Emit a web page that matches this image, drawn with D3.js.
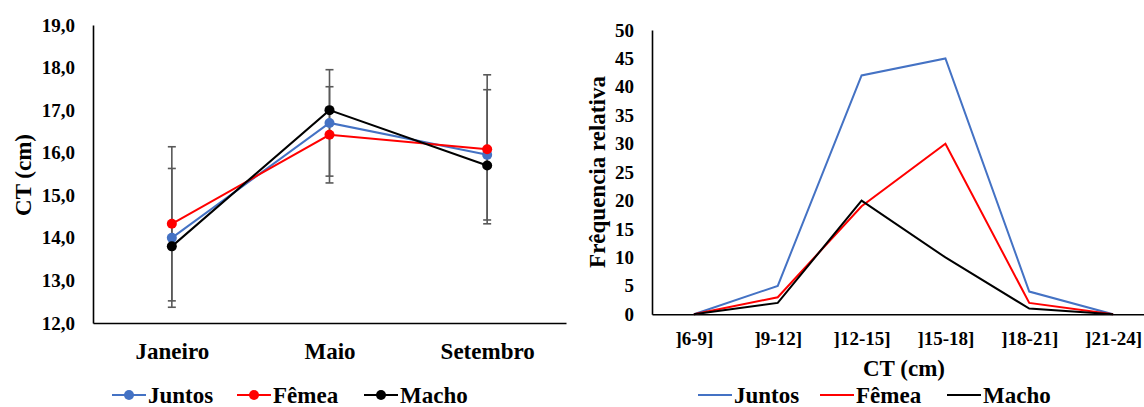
<!DOCTYPE html>
<html><head><meta charset="utf-8">
<script src="https://cdn.jsdelivr.net/npm/d3@7"></script>
<style>body{margin:0;background:#fff}svg{display:block}</style>
</head><body><svg id="c" width="1144" height="407" font-family="'Liberation Serif', 'Times New Roman', 'DejaVu Serif', serif" font-weight="bold"></svg>
<script>
// Left chart data
const months = ["Janeiro", "Maio", "Setembro"];
const ctJuntos = [14.0, 16.7, 15.95];
const ctFemea = [14.33, 16.42, 16.08];
const ctMacho = [13.8, 17.0, 15.7];
const errJuntos = [1.63, 1.25, 1.53];
const errFemea = [1.81, 1.13, 1.75];
const leftTicks = [12, 13, 14, 15, 16, 17, 18, 19];

// Right chart data
const classes = ["]6-9]", "]9-12]", "]12-15]", "]15-18]", "]18-21]", "]21-24]"];
const freqJuntos = [0, 5, 42, 45, 4, 0];
const freqFemea = [0, 3, 19, 30, 2, 0];
const freqMacho = [0, 2, 20, 10, 1, 0];
const rightTicks = [0, 5, 10, 15, 20, 25, 30, 35, 40, 45, 50];

const seriesNames = ["Juntos", "Fêmea", "Macho"];
const colors = ["#4472C4", "#FF0000", "#000000"];

const FONT = "'Liberation Serif', 'Times New Roman', 'DejaVu Serif', serif";
const svg = d3.select("#c");

function styleAxis(g, size) {
  g.attr("font-family", FONT).attr("font-weight", "bold");
  g.select(".domain").attr("stroke", "#000").attr("stroke-width", 1.6);
  g.selectAll("text").attr("font-size", size).attr("fill", "#000")
    .attr("font-family", FONT).attr("font-weight", "bold");
}

// ---------- Left chart ----------
const L = svg.append("g");
const lx = d3.scalePoint().domain(months).range([93, 566]).padding(0.5);
const ly = d3.scaleLinear().domain([12, 19]).range([323, 25]);

const lyAxis = d3.axisLeft(ly).tickValues(leftTicks).tickSize(0).tickPadding(18)
  .tickFormat(d => d3.format(".1f")(d).replace(".", ","));
L.append("g").attr("transform", "translate(93,0)").call(lyAxis).call(g => styleAxis(g, 19));
const lxAxis = d3.axisBottom(lx).tickSize(0).tickPadding(20);
L.append("g").attr("transform", "translate(0,323)").call(lxAxis).call(g => styleAxis(g, 23));

L.append("text").attr("transform", "translate(31,175) rotate(-90)")
  .attr("text-anchor", "middle").attr("font-size", 23).text("CT (cm)");

// error bars
const errSets = [[ctJuntos, errJuntos], [ctFemea, errFemea]];
errSets.forEach(([vals, errs]) => {
  months.forEach((m, i) => {
    const x = lx(m), y1 = ly(vals[i] + errs[i]), y2 = ly(vals[i] - errs[i]);
    const g = L.append("g").attr("stroke", "#595959").attr("stroke-width", 1.6);
    g.append("line").attr("x1", x).attr("x2", x).attr("y1", y1).attr("y2", y2);
    g.append("line").attr("x1", x - 4).attr("x2", x + 4).attr("y1", y1).attr("y2", y1);
    g.append("line").attr("x1", x - 4).attr("x2", x + 4).attr("y1", y2).attr("y2", y2);
  });
});

const leftSeries = [ctJuntos, ctFemea, ctMacho];
const lline = d3.line().x((d, i) => lx(months[i])).y(d => ly(d));
leftSeries.forEach((s, k) => {
  L.append("path").attr("d", lline(s)).attr("fill", "none")
    .attr("stroke", colors[k]).attr("stroke-width", 2);
});
leftSeries.forEach((s, k) => {
  L.selectAll(null).data(s).join("circle")
    .attr("cx", (d, i) => lx(months[i])).attr("cy", d => ly(d)).attr("r", 5)
    .attr("fill", colors[k]);
});

// left legend
const lLegX = [112, 237, 364];
seriesNames.forEach((n, k) => {
  const g = L.append("g").attr("transform", `translate(${lLegX[k]},395)`);
  g.append("line").attr("x1", 0).attr("x2", 34).attr("stroke", colors[k]).attr("stroke-width", 2);
  g.append("circle").attr("cx", 17).attr("r", 5).attr("fill", colors[k]);
  g.append("text").attr("x", 36).attr("y", 7.5).attr("font-size", 23).text(n);
});

// ---------- Right chart ----------
const R = svg.append("g");
const rx = d3.scalePoint().domain(classes).range([652, 1155]).padding(0.5);
const ry = d3.scaleLinear().domain([0, 50]).range([314.3, 30]);

const ryAxis = d3.axisLeft(ry).tickValues(rightTicks).tickSize(0).tickPadding(18);
R.append("g").attr("transform", "translate(652,0)").call(ryAxis).call(g => styleAxis(g, 19));
const rxAxis = d3.axisBottom(rx).tickSize(0).tickPadding(17);
R.append("g").attr("transform", "translate(0,314.3)").call(rxAxis).call(g => styleAxis(g, 19));

R.append("text").attr("x", 904).attr("y", 376).attr("text-anchor", "middle")
  .attr("font-size", 23).text("CT (cm)");
R.append("text").attr("transform", "translate(605,172) rotate(-90)")
  .attr("text-anchor", "middle").attr("font-size", 23).text("Frêquencia relativa");

const rightSeries = [freqJuntos, freqFemea, freqMacho];
const rline = d3.line().x((d, i) => rx(classes[i])).y(d => ry(d));
rightSeries.forEach((s, k) => {
  R.append("path").attr("d", rline(s)).attr("fill", "none")
    .attr("stroke", colors[k]).attr("stroke-width", 2);
});

const rLegX = [698, 820, 947];
seriesNames.forEach((n, k) => {
  const g = R.append("g").attr("transform", `translate(${rLegX[k]},395)`);
  g.append("line").attr("x1", 0).attr("x2", 34).attr("stroke", colors[k]).attr("stroke-width", 2);
  g.append("text").attr("x", 36).attr("y", 7.5).attr("font-size", 23).text(n);
});
</script></body></html>
